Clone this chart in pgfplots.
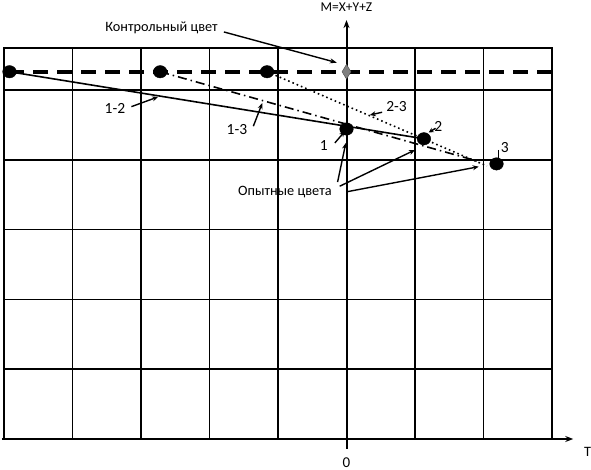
\documentclass[border=0pt]{standalone}
\usepackage{pgfplots}
\pgfplotsset{compat=1.18}
\usepackage{fontspec}
\setmainfont{Carlito}
\usetikzlibrary{arrows.meta}
\begin{document}
\begin{tikzpicture}
\begin{axis}[
  at={(0,0)}, anchor=south west,
  scale only axis, width=548bp, height=391bp,
  xmin=-5, xmax=3, ymin=0, ymax=5.6,
  xtick={-5,...,3}, ytick={0,...,5},
  xticklabels={}, yticklabels={},
  major tick length=0pt,
  grid=major,
  major grid style={line width=1.7bp, black},
  axis line style={line width=1.9bp, black},
  clip=false,
  font=\fontsize{14.3bp}{16bp}\selectfont,
]
% control (dashed) line
\addplot[black, line width=3.6bp, dash pattern=on 15bp off 9bp] coordinates {(-4.92,5.26) (3,5.26)};
% 1-2 solid
\addplot[black, line width=1.6bp] coordinates {(-4.92,5.26) (1.13,4.30)};
% 1-3 dash-dot
\addplot[black, line width=1.6bp, dash pattern=on 9bp off 4bp on 1.5bp off 4bp] coordinates {(-2.72,5.26) (1.95,3.97)};
% 2-3 dotted
\addplot[black, line width=1.6bp, dash pattern=on 1.6bp off 3bp] coordinates {(-1.16,5.26) (2.05,3.91)};
% axes
\draw[black, line width=2bp, -{Stealth[length=8bp,width=6bp]}] (axis cs:0,-0.14) -- (axis cs:0,6.0);
\draw[black, line width=2bp, -{Stealth[length=8bp,width=6bp]}] (axis cs:-5.03,0) -- (axis cs:3.31,0);
% points
\addplot[only marks, mark=*, mark size=6.2bp, black, mark options={xscale=1.1}] coordinates {(-4.92,5.26) (-2.72,5.26) (-1.16,5.26) (0,4.44) (1.13,4.30) (2.19,3.94)};
\addplot[only marks, mark=diamond*, mark size=7bp, mark options={fill=gray, draw=gray!60!black, yscale=1.05, xscale=0.85}] coordinates {(0,5.26)};
% annotations
\node at (axis cs:-2.7,5.89) {Контрольный цвет};
\draw[line width=1.4bp, -{Stealth[length=7bp,width=5bp]}] (axis cs:-1.79,5.83) -- (axis cs:-0.14,5.39);
\node[font=\fontsize{15.5bp}{17bp}\selectfont] at (axis cs:-3.38,4.74) {1-2};
\draw[line width=1.4bp, -{Stealth[length=6bp,width=5bp]}] (axis cs:-3.14,4.76) -- (axis cs:-2.75,4.90);
\node[font=\fontsize{15.5bp}{17bp}\selectfont] at (axis cs:-1.6,4.43) {1-3};
\draw[line width=1.4bp, -{Stealth[length=6bp,width=5bp]}] (axis cs:-1.36,4.48) -- (axis cs:-1.23,4.81);
\node[font=\fontsize{15.5bp}{17bp}\selectfont] at (axis cs:0.73,4.76) {2-3};
\draw[line width=1.4bp, -{Stealth[length=6bp,width=5bp]}] (axis cs:0.52,4.68) -- (axis cs:0.34,4.64);
\node[font=\fontsize{15.5bp}{17bp}\selectfont] at (axis cs:1.34,4.48) {2};
\draw[line width=1.4bp, -{Stealth[length=5bp,width=5bp]}] (axis cs:1.3,4.45) -- (axis cs:1.20,4.39);
\node[font=\fontsize{15.5bp}{17bp}\selectfont] at (axis cs:2.31,4.18) {3};
\draw[line width=1.6bp] (axis cs:2.22,4.14) -- (axis cs:2.22,4.0);
\node[font=\fontsize{15.5bp}{17bp}\selectfont] at (axis cs:-0.33,4.2) {1};
\draw[line width=1.4bp, -{Stealth[length=5bp,width=5bp]}] (axis cs:-0.17,4.24) -- (axis cs:-0.03,4.40);
\node at (axis cs:-0.9,3.54) {Опытные цвета};
\draw[line width=1.4bp, -{Stealth[length=6bp,width=5bp]}] (axis cs:-0.13,3.68) -- (axis cs:-0.01,4.24);
\draw[line width=1.4bp, -{Stealth[length=6bp,width=5bp]}] (axis cs:-0.1,3.62) -- (axis cs:1.0,4.14);
\draw[line width=1.4bp, -{Stealth[length=6bp,width=5bp]}] (axis cs:0,3.54) -- (axis cs:1.93,3.9);
\node[font=\fontsize{13.5bp}{15bp}\selectfont] at (axis cs:0,6.19) {M=X+Y+Z};
\node at (axis cs:3.52,-0.19) {T};
\node[font=\fontsize{15bp}{17bp}\selectfont] at (axis cs:0,-0.34) {0};
\end{axis}
\pgfresetboundingbox
\path[use as bounding box] (-4bp,-31bp) rectangle (587bp,439bp);
\end{tikzpicture}
\end{document}
